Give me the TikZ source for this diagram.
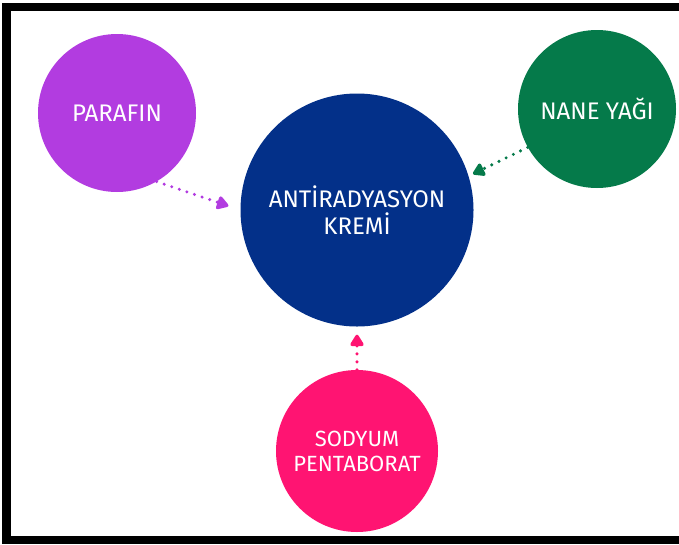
\documentclass[tikz,border=0pt]{standalone}
\usepackage{fontspec}
\setmainfont{Fira Sans}
\usetikzlibrary{arrows.meta}
\definecolor{parafinmor}{RGB}{178,60,224}
\definecolor{kremlacivert}{RGB}{3,48,137}
\definecolor{naneyesil}{RGB}{5,122,74}
\definecolor{sodyumpembe}{RGB}{255,20,114}
\begin{document}
\begin{tikzpicture}[x=1pt,y=-1pt,
    blob/.style={circle,inner sep=0pt,text=white,align=center},
    dotarrow/.style={line width=3.4pt,line cap=round,dash pattern=on 0pt off 8pt,
      -{Triangle[length=13pt,width=15pt,round]}}]
    \useasboundingbox (0,0) rectangle (679,544);
    \fill (2,3) rectangle (679,11);
    \fill (2,3) rectangle (11,544);
    \fill (2,536) rectangle (679,544);
    \node[blob,fill=kremlacivert,minimum size=233pt,font=\fontsize{24}{27}\selectfont] (krem) at (357,210) {ANTİRADYASYON\\KREMİ};
    \node[blob,fill=parafinmor,minimum size=158pt,font=\fontsize{24}{25}\selectfont] (parafin) at (117,113) {PARAFIN};
    \node[blob,fill=naneyesil,minimum size=158pt,font=\fontsize{24}{25}\selectfont] (nane) at (597,109) {NANE YAĞI};
    \node[blob,fill=sodyumpembe,minimum size=162pt,font=\fontsize{22}{25}\selectfont] (sodyum) at (357,451) {SODYUM\\PENTABORAT};
    \draw[dotarrow,parafinmor] (parafin.-60) -- ([xshift=-12pt]krem.178);
    \draw[dotarrow,naneyesil] (nane.209) -- ([xshift=5pt]krem.18);
    \draw[dotarrow,sodyumpembe] (sodyum.north) -- ([yshift=-8pt]krem.south);
\end{tikzpicture}
\end{document}
